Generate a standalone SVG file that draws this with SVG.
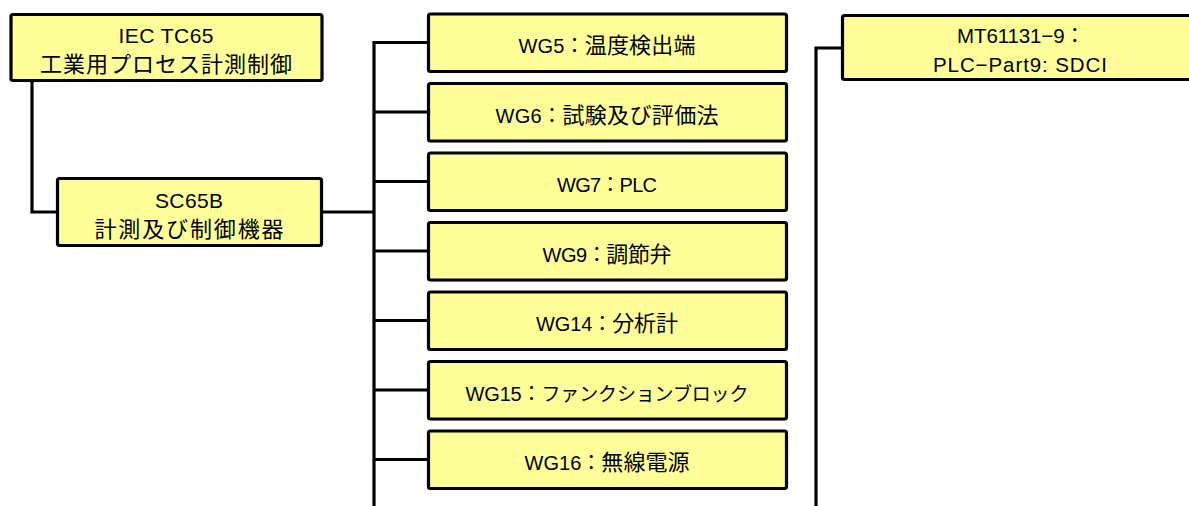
<svg xmlns="http://www.w3.org/2000/svg" width="1189" height="506" viewBox="0 0 1189 506">
<style>
.box{fill:#FFFF99;stroke:#000;stroke-width:3.2}
.sh{fill:#d0d0d0}
.t{font-family:"Liberation Sans","Noto Sans CJK JP",sans-serif;font-size:21px;fill:#000;text-anchor:middle}
.w{font-size:20px}
.j{font-family:"Noto Sans CJK JP","Liberation Sans",sans-serif;font-size:22px}
.k{font-family:"Noto Sans CJK JP","Liberation Sans",sans-serif;font-size:19px}
.c{fill:none;stroke:#000;stroke-width:3.2;stroke-linejoin:miter}
</style>
<rect width="1189" height="506" fill="#fff"/>
<g id="connectors">
<path class="c" d="M32,81 V212 H57"/>
<path class="c" d="M322,212 H374"/>
<path class="c" d="M428,42.5 H374 V506"/>
<path class="c" d="M374,112 H428"/>
<path class="c" d="M374,181.5 H428"/>
<path class="c" d="M374,251 H428"/>
<path class="c" d="M374,320.5 H428"/>
<path class="c" d="M374,390 H428"/>
<path class="c" d="M374,459.5 H428"/>
<path class="c" d="M842,48 H816 V506"/>
</g>
<g id="tc65">
<rect class="sh" x="12" y="16" width="311" height="66" rx="2"/>
<rect class="box" x="11" y="14.5" width="311" height="66" rx="2"/>
<text class="t" x="166" y="43" textLength="95">IEC TC65</text>
<text class="t j" x="166" y="72" textLength="252">工業用プロセス計測制御</text>
</g>
<g id="sc65b">
<rect class="sh" x="58.5" y="180" width="264" height="67" rx="2"/>
<rect class="box" x="57.5" y="178.5" width="264" height="67" rx="2"/>
<text class="t" x="189" y="208" textLength="68">SC65B</text>
<text class="t j" x="189" y="237" textLength="189">計測及び制御機器</text>
</g>
<g id="wg5">
<rect class="sh" x="429.5" y="15.5" width="358" height="57.5" rx="2"/>
<rect class="box" x="428.5" y="14" width="358" height="57.5" rx="2"/>
<text class="t w" x="607" y="53" textLength="177">WG5：<tspan class="j">温度検出端</tspan></text>
</g>
<g id="wg6">
<rect class="sh" x="429.5" y="85" width="358" height="57.5" rx="2"/>
<rect class="box" x="428.5" y="83.5" width="358" height="57.5" rx="2"/>
<text class="t w" x="607" y="122.5" textLength="223">WG6：<tspan class="j">試験及び評価法</tspan></text>
</g>
<g id="wg7">
<rect class="sh" x="429.5" y="154.5" width="358" height="57.5" rx="2"/>
<rect class="box" x="428.5" y="153" width="358" height="57.5" rx="2"/>
<text class="t w" x="607" y="192" textLength="100">WG7：PLC</text>
</g>
<g id="wg9">
<rect class="sh" x="429.5" y="224" width="358" height="57.5" rx="2"/>
<rect class="box" x="428.5" y="222.5" width="358" height="57.5" rx="2"/>
<text class="t w" x="607" y="261.5" textLength="129">WG9：<tspan class="j">調節弁</tspan></text>
</g>
<g id="wg14">
<rect class="sh" x="429.5" y="293.5" width="358" height="57.5" rx="2"/>
<rect class="box" x="428.5" y="292" width="358" height="57.5" rx="2"/>
<text class="t w" x="607" y="331" textLength="142">WG14：<tspan class="j">分析計</tspan></text>
</g>
<g id="wg15">
<rect class="sh" x="429.5" y="363" width="358" height="57.5" rx="2"/>
<rect class="box" x="428.5" y="361.5" width="358" height="57.5" rx="2"/>
<text class="t w" x="607" y="400.5" textLength="283">WG15：<tspan class="k">ファンクションブロック</tspan></text>
</g>
<g id="wg16">
<rect class="sh" x="429.5" y="432.5" width="358" height="57.5" rx="2"/>
<rect class="box" x="428.5" y="431" width="358" height="57.5" rx="2"/>
<text class="t w" x="607" y="470" textLength="165">WG16：<tspan class="j">無線電源</tspan></text>
</g>
<g id="mt61131">
<rect class="sh" x="843.5" y="17" width="357" height="64" rx="2"/>
<rect class="box" x="842.5" y="15.5" width="357" height="64" rx="2"/>
<text class="t" x="1021" y="43" textLength="128" style="font-size:20.5px">MT61131−9：</text>
<text class="t" x="1020" y="71.5" textLength="174" style="font-size:20.5px">PLC−Part9: SDCI</text>
</g>
</svg>
